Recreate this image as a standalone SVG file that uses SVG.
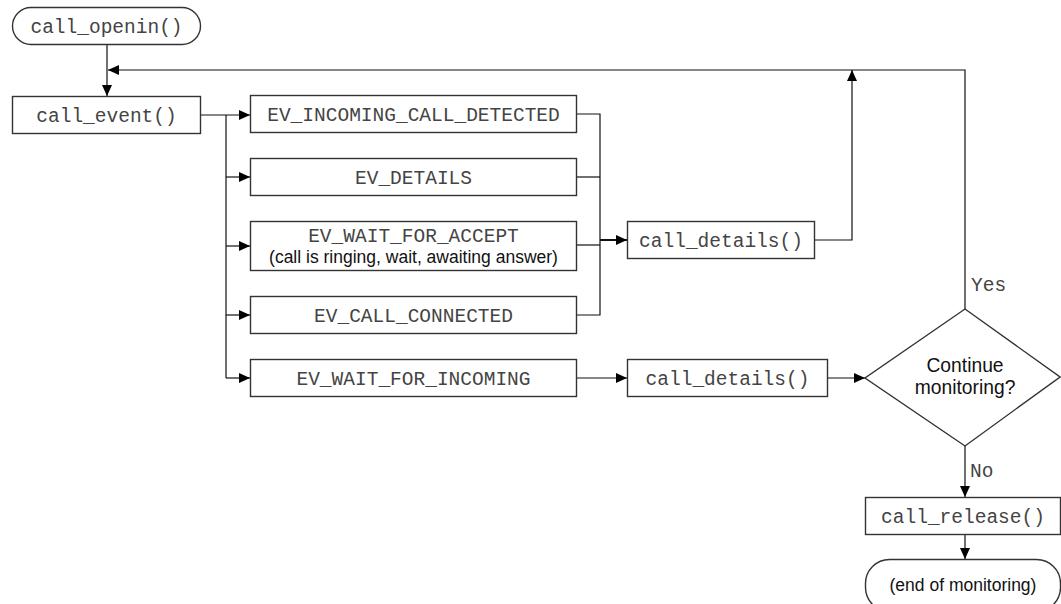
<svg xmlns="http://www.w3.org/2000/svg" width="1061" height="604" viewBox="0 0 1061 604">
<style>
.box{fill:#fff;stroke:#333;stroke-width:1.4}
.mono{font-family:"Liberation Mono","Courier New",monospace;font-size:19.5px;fill:#444;text-anchor:middle}
.sans{font-family:"Liberation Sans",Arial,sans-serif;font-size:17.5px;fill:#111;text-anchor:middle}
.dia{font-family:"Liberation Sans",Arial,sans-serif;font-size:19.3px;fill:#111;text-anchor:middle}
.lbl{font-family:"Liberation Mono","Courier New",monospace;font-size:19.5px;fill:#444}
.ln{fill:none;stroke:#111;stroke-width:1.2}
</style>
<defs>
<marker id="ah" markerWidth="12" markerHeight="10" refX="11" refY="5" orient="auto" markerUnits="userSpaceOnUse">
<path d="M0,0 L11,5 L0,10 Z" fill="#000"/>
</marker>
</defs>
<rect width="1061" height="604" fill="#fff"/>
<g id="connectors">
<path class="ln" d="M107,45 V96" marker-end="url(#ah)"/>
<path class="ln" d="M965,309 V70 H108" marker-end="url(#ah)"/>
<path class="ln" d="M201,115 H250" marker-end="url(#ah)"/>
<path class="ln" d="M226,115 V378"/>
<path class="ln" d="M226,177 H250" marker-end="url(#ah)"/>
<path class="ln" d="M226,246 H250" marker-end="url(#ah)"/>
<path class="ln" d="M226,315 H250" marker-end="url(#ah)"/>
<path class="ln" d="M226,378 H250" marker-end="url(#ah)"/>
<path class="ln" d="M577,114 H600 V315 H577"/>
<path class="ln" d="M577,177 H600"/>
<path class="ln" d="M577,245 H600"/>
<path class="ln" d="M600,240 H627" marker-end="url(#ah)" style="stroke-width:2"/>
<path class="ln" d="M815,240 H852 V70" marker-end="url(#ah)"/>
<path class="ln" d="M577,378 H627" marker-end="url(#ah)"/>
<path class="ln" d="M828,378 H865" marker-end="url(#ah)"/>
<path class="ln" d="M965,446 V497" marker-end="url(#ah)"/>
<path class="ln" d="M965,535 V559" marker-end="url(#ah)"/>
<text class="lbl" x="971" y="291">Yes</text>
<text class="lbl" x="970" y="477">No</text>
</g>
<g id="call_openin">
<rect class="box" x="12.5" y="7.5" width="188" height="37" rx="18.5"/>
<text class="mono" x="106.5" y="32.5">call_openin()</text>
</g>
<g id="call_event">
<rect class="box" x="12.5" y="96.5" width="188" height="37"/>
<text class="mono" x="106.5" y="121.5">call_event()</text>
</g>
<g id="ev_incoming_call_detected">
<rect class="box" x="250.5" y="95.5" width="326" height="37"/>
<text class="mono" x="413.5" y="120.5">EV_INCOMING_CALL_DETECTED</text>
</g>
<g id="ev_details">
<rect class="box" x="250.5" y="158.5" width="326" height="37"/>
<text class="mono" x="413.5" y="183.5">EV_DETAILS</text>
</g>
<g id="ev_wait_for_accept">
<rect class="box" x="250.5" y="221.5" width="326" height="49"/>
<text class="mono" x="413.5" y="241.5">EV_WAIT_FOR_ACCEPT</text>
<text class="sans" x="413.5" y="263">(call is ringing, wait, awaiting answer)</text>
</g>
<g id="ev_call_connected">
<rect class="box" x="250.5" y="296.5" width="326" height="37"/>
<text class="mono" x="413.5" y="321.5">EV_CALL_CONNECTED</text>
</g>
<g id="ev_wait_for_incoming">
<rect class="box" x="250.5" y="359.5" width="326" height="37"/>
<text class="mono" x="413.5" y="384.5">EV_WAIT_FOR_INCOMING</text>
</g>
<g id="call_details_1">
<rect class="box" x="627.5" y="221.5" width="187" height="37"/>
<text class="mono" x="721" y="246.5">call_details()</text>
</g>
<g id="call_details_2">
<rect class="box" x="627.5" y="359.5" width="200" height="37"/>
<text class="mono" x="727.5" y="384.5">call_details()</text>
</g>
<g id="decision">
<path class="box" d="M965,309 L1060,377 L965,446 L865,378 Z"/>
<text class="dia" x="965" y="372">Continue</text>
<text class="dia" x="965" y="394">monitoring?</text>
</g>
<g id="call_release">
<rect class="box" x="865.5" y="497.5" width="195" height="37"/>
<text class="mono" x="963" y="522.5">call_release()</text>
</g>
<g id="end_of_monitoring">
<rect class="box" x="865.5" y="559.5" width="195" height="52" rx="24"/>
<text class="sans" x="963" y="591">(end of monitoring)</text>
</g>
</svg>
